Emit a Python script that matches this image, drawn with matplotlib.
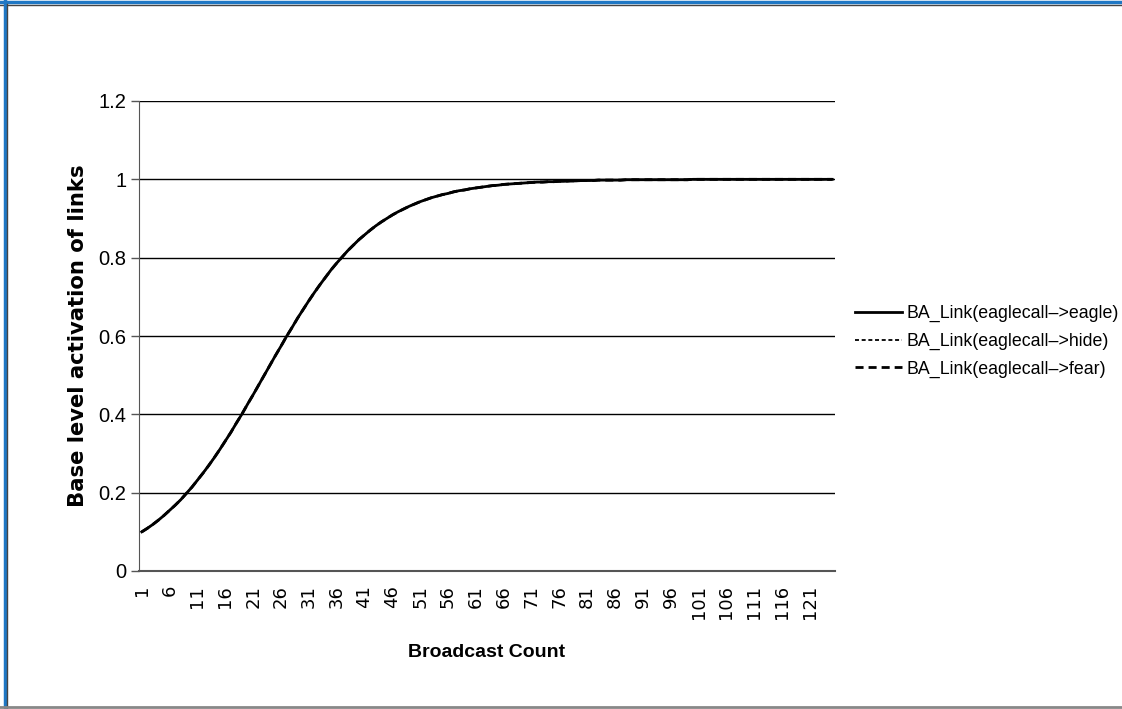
import matplotlib
matplotlib.use("Agg")
import matplotlib.pyplot as plt
from matplotlib.lines import Line2D

# broadcast counts 1..125
counts = list(range(1, 126))
eagle = [0.100, 0.109, 0.119, 0.130, 0.142, 0.155, 0.168, 0.182, 0.198, 0.214,
         0.232, 0.250, 0.269, 0.289, 0.310, 0.332, 0.354, 0.378, 0.401, 0.426,
         0.450, 0.475, 0.500, 0.525, 0.550, 0.574, 0.599, 0.622, 0.646, 0.668,
         0.690, 0.711, 0.731, 0.750, 0.769, 0.786, 0.802, 0.818, 0.832, 0.846,
         0.858, 0.870, 0.881, 0.891, 0.900, 0.909, 0.917, 0.924, 0.931, 0.937,
         0.943, 0.948, 0.953, 0.957, 0.961, 0.964, 0.968, 0.971, 0.973, 0.976,
         0.978, 0.980, 0.982, 0.984, 0.985, 0.987, 0.988, 0.989, 0.990, 0.991,
         0.992, 0.993, 0.993, 0.994, 0.994, 0.995, 0.995, 0.996, 0.996, 0.997,
         0.997, 0.997, 0.998, 0.998, 0.998, 0.998, 0.998, 0.999, 0.999, 0.999,
         0.999, 0.999, 0.999, 0.999, 0.999, 0.999, 0.999, 0.999, 0.999, 1.000,
         1.000, 1.000, 1.000, 1.000, 1.000, 1.000, 1.000, 1.000, 1.000, 1.000,
         1.000, 1.000, 1.000, 1.000, 1.000, 1.000, 1.000, 1.000, 1.000, 1.000,
         1.000, 1.000, 1.000, 1.000, 1.000]
# the other two links lie on the same curve
hide = list(eagle)
fear = list(eagle)
labels = ["BA_Link(eaglecall\u2013>eagle)", "BA_Link(eaglecall\u2013>hide)",
          "BA_Link(eaglecall\u2013>fear)"]
yticks = [0, 0.2, 0.4, 0.6, 0.8, 1.0, 1.2]
ytick_labels = ["0", "0.2", "0.4", "0.6", "0.8", "1", "1.2"]

narrow = ["Liberation Sans", "DejaVu Sans"]

fig = plt.figure(figsize=(11.22, 7.09), dpi=100)
W, H = 1122, 709
ax = fig.add_axes([139 / W, 1 - 571 / H, (835 - 139) / W, (571 - 101) / H])

ax.plot(counts, fear, color="black", lw=2, ls=(0, (2.9, 1.8)), zorder=3)
ax.plot(counts, hide, color="black", lw=1.3, ls=(0, (2.2, 1.5)), zorder=3)
ax.plot(counts, eagle, color="black", lw=2, zorder=4)

ax.set_xlim(0.5, 125.5)
ax.set_ylim(0, 1.2)
ax.set_yticks(yticks)
ax.set_yticklabels(ytick_labels, family=narrow, fontsize=14.5)
ax.yaxis.grid(True, color="black", lw=1)
ax.set_axisbelow(True)
ax.set_xticks(counts[::5])
ax.set_xticklabels([str(c) for c in counts[::5]], rotation=90, fontsize=13,
                   family="DejaVu Sans")
ax.tick_params(axis="x", length=0, pad=10)
ax.tick_params(axis="y", length=6, width=1, color="#555555", pad=3)
for s in ["top", "right"]:
    ax.spines[s].set_visible(False)
ax.spines["left"].set_color("#555555")
ax.spines["bottom"].set_color("#555555")
ax.spines["bottom"].set_linewidth(1.5)

ax.set_ylabel("Base level activation of links", fontsize=15.2, fontweight="bold",
              family="DejaVu Sans")
ax.yaxis.set_label_coords(-0.073, 0.5)
ax.set_xlabel("Broadcast Count", fontsize=14, fontweight="bold", family=narrow)
ax.xaxis.set_label_coords(0.5, -0.155)

handles = [Line2D([], [], color="black", lw=2),
           Line2D([], [], color="black", lw=1.3, ls=(0, (2.2, 1.5))),
           Line2D([], [], color="black", lw=2, ls=(0, (2.9, 1.8)))]
fig.legend(handles, labels, loc="upper left", bbox_to_anchor=(855 / W, 1 - 305 / H),
           frameon=False, prop={"family": narrow, "size": 12.8},
           handlelength=2.64, handletextpad=0.28, labelspacing=0.6,
           borderaxespad=0, borderpad=0)

# window-like border: blue on top/left, grey on bottom
fig.add_artist(Line2D([0, 1], [1 - 2 / H, 1 - 2 / H], color="#1f77c4", lw=2.5))
fig.add_artist(Line2D([0, 1], [1 - 4.5 / H, 1 - 4.5 / H], color="#444444", lw=1))
fig.add_artist(Line2D([5 / W, 5 / W], [0, 1], color="#1f77c4", lw=2.5))
fig.add_artist(Line2D([7 / W, 7 / W], [0, 1 - 4 / H], color="#444444", lw=1))
fig.add_artist(Line2D([0, 1], [2 / H, 2 / H], color="#888888", lw=2))

fig.savefig("out.png", dpi=100)
